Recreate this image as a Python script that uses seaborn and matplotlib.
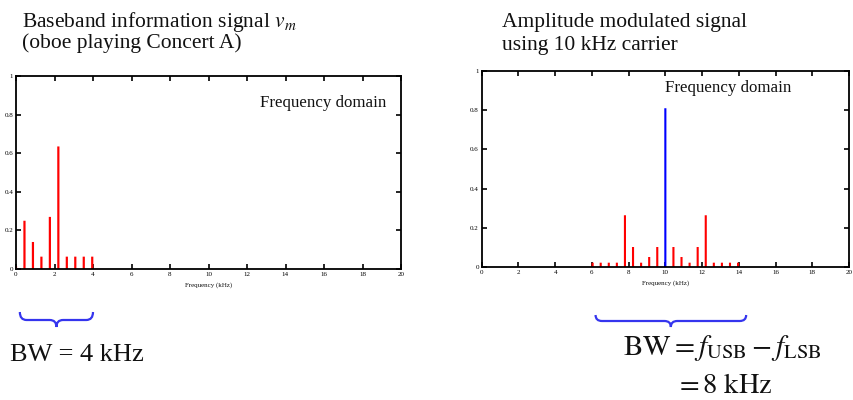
import matplotlib
matplotlib.use("Agg")
import matplotlib.pyplot as plt
import matplotlib.transforms as mtransforms
from matplotlib.path import Path
from matplotlib.patches import PathPatch
import pandas as pd
import seaborn as sns

# ---- data ----
baseband_freq = [0.0, 0.44, 0.88, 1.32, 1.76, 2.20, 2.64, 3.08, 3.52, 3.96]
baseband_amp = [0.015, 0.25, 0.14, 0.064, 0.27, 0.635, 0.064, 0.064, 0.064, 0.064]

am_freq = [6.04, 6.48, 6.92, 7.36, 7.80, 8.24, 8.68, 9.12, 9.56,
           10.0,
           10.44, 10.88, 11.32, 11.76, 12.20, 12.64, 13.08, 13.52, 13.96]
am_amp = [0.022, 0.022, 0.022, 0.022, 0.264, 0.102, 0.022, 0.051, 0.102,
          0.81,
          0.102, 0.051, 0.022, 0.102, 0.264, 0.022, 0.022, 0.022, 0.022]
am_kind = ["sideband"] * 9 + ["carrier"] + ["sideband"] * 9

x_ticks = list(range(0, 21, 2))
y_ticks = [0, 0.2, 0.4, 0.6, 0.8, 1.0]
y_tick_labels = ["0", "0.2", "0.4", "0.6", "0.8", "1"]

# ---- style ----
sns.set_theme(style="ticks")
plt.rcParams["font.family"] = ["Liberation Serif", "DejaVu Serif"]
plt.rcParams["mathtext.fontset"] = "stix"
plt.rcParams["text.color"] = "#111111"
plt.rcParams["axes.labelcolor"] = "#111111"

W, H = 854, 400
fig = plt.figure(figsize=(W / 100, H / 100), dpi=100)
fig.patch.set_facecolor("white")

ax1 = fig.add_axes([16 / W, 1 - 269 / H, (401 - 16) / W, (269 - 76) / H])
ax2 = fig.add_axes([481.7 / W, 1 - 267 / H, (849 - 481.7) / W, (267 - 71) / H])

df1 = pd.DataFrame({"freq": baseband_freq, "amp": baseband_amp})
sns.barplot(data=df1, x="freq", y="amp", native_scale=True, width=0.26,
            color="#ff0000", saturation=1, linewidth=0, ax=ax1)

df2 = pd.DataFrame({"freq": am_freq, "amp": am_amp, "kind": am_kind})
sns.barplot(data=df2, x="freq", y="amp", hue="kind", native_scale=True,
            width=0.26, palette={"sideband": "#ff0000", "carrier": "#0000ff"},
            saturation=1, linewidth=0, dodge=False, legend=False, ax=ax2)

for ax in (ax1, ax2):
    for p in ax.patches:
        p.set_snap(False)
    ax.set_xlim(0, 20)
    ax.set_ylim(0, 1)
    ax.set_xticks(x_ticks)
    ax.set_xticklabels([str(t) for t in x_ticks])
    ax.set_yticks(y_ticks)
    ax.set_yticklabels(y_tick_labels)
    ax.tick_params(direction="in", top=True, right=True, length=3.5, width=1.2,
                   labelsize=5, pad=2, colors="black")
    for s in ax.spines.values():
        s.set_linewidth(1.3)
        s.set_color("black")
        s.set_visible(True)
    ax.set_xlabel("Frequency (kHz)", fontsize=5, labelpad=4)
    ax.set_ylabel("")
    ax.set_facecolor("white")

ax1.text(0.634, 0.839, "Frequency domain", transform=ax1.transAxes,
         fontsize=12.2, va="baseline", ha="left")
ax2.text(0.499, 0.893, "Frequency domain", transform=ax2.transAxes,
         fontsize=12.2, va="baseline", ha="left")

# ---- titles ----
fig.text(22 / W, 1 - 27 / H, r"Baseband information signal $v_m$",
         fontsize=15.5, va="baseline", ha="left")
fig.text(22 / W, 1 - 48 / H, "(oboe playing Concert A)",
         fontsize=15.5, va="baseline", ha="left")
fig.text(502 / W, 1 - 27 / H, "Amplitude modulated signal",
         fontsize=15.5, va="baseline", ha="left")
fig.text(502 / W, 1 - 50 / H, "using 10 kHz carrier",
         fontsize=15.5, va="baseline", ha="left")


# ---- braces ----
def brace(ax, x0, x1, y_top, y_mid, y_bot, r, color="#3535ee"):
    tr = mtransforms.blended_transform_factory(ax.transData, fig.transFigure)
    xm = (x0 + x1) / 2
    verts = [(x0, y_top), (x0, y_mid), (x0 + r, y_mid),
             (xm - r, y_mid),
             (xm, y_mid), (xm, y_bot),
             (xm, y_mid), (xm + r, y_mid),
             (x1 - r, y_mid),
             (x1, y_mid), (x1, y_top)]
    codes = [Path.MOVETO, Path.CURVE3, Path.CURVE3,
             Path.LINETO,
             Path.CURVE3, Path.CURVE3,
             Path.CURVE3, Path.CURVE3,
             Path.LINETO,
             Path.CURVE3, Path.CURVE3]
    patch = PathPatch(Path(verts, codes), transform=tr, facecolor="none",
                      edgecolor=color, lw=1.6, clip_on=False)
    fig.add_artist(patch)


brace(ax1, 0.2, 4.0, 1 - 312 / H, 1 - 320 / H, 1 - 327 / H, 0.35)
brace(ax2, 6.2, 14.4, 1 - 315 / H, 1 - 321 / H, 1 - 327 / H, 0.35)

# ---- bandwidth text ----
fig.text(10 / W, 1 - 361 / H, "BW = 4 kHz", fontsize=19,
         va="baseline", ha="left")
fig.text(623 / W, 1 - 355 / H,
         r"$\mathrm{BW} = f_{\mathrm{USB}} - f_{\mathrm{LSB}}$",
         fontsize=21, va="baseline", ha="left")
fig.text(675 / W, 1 - 393 / H, r"$= 8\ \mathrm{kHz}$", fontsize=20.5,
         va="baseline", ha="left")

fig.savefig("out.png", dpi=100, facecolor="white")
